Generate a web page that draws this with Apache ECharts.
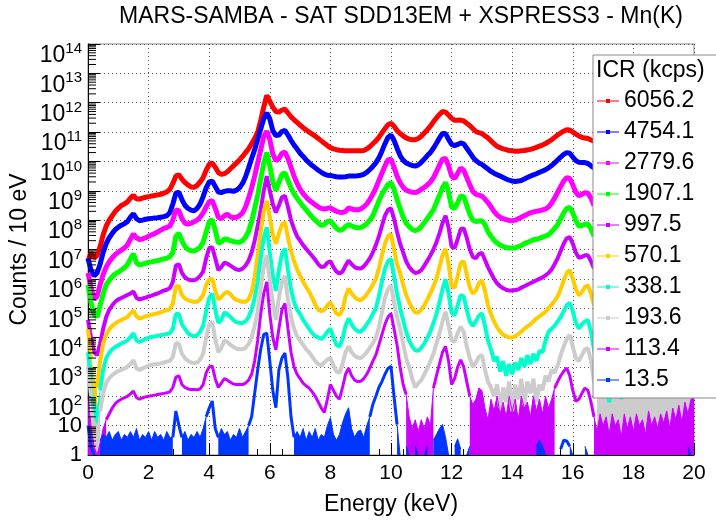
<!DOCTYPE html>
<html>
<head>
<meta charset="utf-8">
<title>MARS-SAMBA - Mn(K)</title>
<script src="https://cdn.jsdelivr.net/npm/echarts@6/dist/echarts.min.js"></script>
<style>
  html, body { margin: 0; padding: 0; background: #fff; }
  #main { width: 716px; height: 521px; }
</style>
</head>
<body>
<div id="main"></div>
<script>
// energy bins, 0.1 keV wide, 0 .. 20 keV
var energy = [];
for (var i = 0; i <= 200; i++) energy.push(i / 10);

// counts per bin, stored as log10(counts / 10 eV)
// 10 values per row = 1 keV ; null = empty bin
// the upper curves stop where the legend box hides them
var c6056 = [
  6.6, 6.9, 6.7, 6.8, 7.1, 7.5, 7.8, 8.0, 8.15, 8.3,
  8.4, 8.5, 8.55, 8.62, 8.75, 8.85, 8.72, 8.72, 8.75, 8.78,
  8.8, 8.82, 8.84, 8.86, 8.88, 8.92, 8.96, 9.05, 9.25, 9.5,
  9.55, 9.4, 9.28, 9.2, 9.13, 9.12, 9.18, 9.3, 9.45, 9.7,
  9.9, 9.95, 9.8, 9.62, 9.56, 9.58, 9.65, 9.75, 9.85, 9.95,
  10.05, 10.17, 10.3, 10.43, 10.6, 10.78, 11.0, 11.4, 11.85, 12.25,
  12.05, 11.85, 11.7, 11.68, 11.75, 11.78, 11.65, 11.52, 11.42, 11.33,
  11.24, 11.15, 11.07, 11.0, 10.93, 10.86, 10.78, 10.7, 10.62, 10.54,
  10.47, 10.43, 10.4, 10.38, 10.37, 10.36, 10.36, 10.36, 10.36, 10.36,
  10.36, 10.37, 10.42, 10.5, 10.6, 10.7, 10.82, 10.97, 11.12, 11.25,
  11.3, 11.2, 11.05, 10.95, 10.87, 10.8, 10.76, 10.74, 10.74, 10.78,
  10.86, 10.97, 11.08, 11.2, 11.35, 11.48, 11.6, 11.7, 11.68, 11.58,
  11.47, 11.4, 11.4, 11.41, 11.38, 11.3, 11.22, 11.12, 11.02, 10.98,
  10.95, 10.87, 10.8, 10.7, 10.6, 10.52, 10.47, 10.43, 10.4, 10.37,
  10.36, 10.35, 10.35, 10.36, 10.37, 10.39, 10.41, 10.44, 10.48, 10.52,
  10.56, 10.61, 10.67, 10.74, 10.82, 10.9, 10.97, 11.03, 11.08, 11.07,
  11.0, 10.93, 10.87, 10.82, 10.8, 10.78, 10.73, 10.69
];
var c4754 = [
  6.7, 6.3, 6.1, 6.2, 6.5, 6.9, 7.2, 7.4, 7.55, 7.68,
  7.76, 7.83, 7.88, 7.95, 8.1, 8.22, 8.05, 7.98, 8.0, 8.03,
  8.05, 8.06, 8.07, 8.08, 8.1, 8.12, 8.15, 8.25, 8.55, 8.92,
  8.95, 8.7, 8.5, 8.4, 8.34, 8.32, 8.4, 8.55, 8.8, 9.1,
  9.3, 9.33, 9.15, 8.96, 8.94, 8.98, 9.0, 9.0, 8.98, 9.02,
  9.1, 9.25, 9.48, 9.78, 10.1, 10.4, 10.75, 11.1, 11.45, 11.65,
  11.45, 11.05, 10.88, 10.9, 11.02, 11.06, 10.9, 10.72, 10.56, 10.42,
  10.28, 10.17, 10.05, 9.95, 9.86, 9.78, 9.7, 9.63, 9.57, 9.53,
  9.52, 9.5, 9.48, 9.47, 9.47, 9.48, 9.5, 9.5, 9.5, 9.51,
  9.53, 9.56, 9.63, 9.72, 9.83, 9.95, 10.12, 10.35, 10.6, 10.82,
  10.9, 10.72, 10.45, 10.2, 10.04, 9.95, 9.9, 9.86, 9.84, 9.88,
  9.97, 10.08, 10.2, 10.3, 10.45, 10.62, 10.8, 10.95, 10.95, 10.75,
  10.58, 10.54, 10.58, 10.63, 10.6, 10.45, 10.3, 10.15, 10.03, 9.95,
  9.9, 9.82, 9.74, 9.66, 9.6, 9.55, 9.5, 9.45, 9.4, 9.36,
  9.33, 9.32, 9.33, 9.35, 9.4, 9.45, 9.5, 9.54, 9.58, 9.63,
  9.67, 9.72, 9.78, 9.86, 9.95, 10.05, 10.15, 10.24, 10.3, 10.28,
  10.15, 10.03, 9.97, 9.96, 9.96, 9.93, 9.85, 9.78
];
var c2779 = [
  6.2, 5.7, 5.3, 5.4, 5.8, 6.15, 6.4, 6.58, 6.72, 6.83,
  6.91, 6.98, 7.05, 7.15, 7.35, 7.53, 7.4, 7.34, 7.36, 7.4,
  7.45, 7.5, 7.54, 7.6, 7.66, 7.72, 7.75, 7.8, 8.0, 8.35,
  8.32, 8.05, 7.9, 7.86, 7.9, 7.94, 8.0, 8.1, 8.25, 8.45,
  8.63, 8.66, 8.4, 8.1, 8.05, 8.15, 8.2, 8.12, 8.08, 8.1,
  8.15, 8.25, 8.45, 8.75, 9.1, 9.5, 9.95, 10.4, 10.85, 11.03,
  10.75, 10.25, 10.02, 10.1, 10.28, 10.32, 10.1, 9.8, 9.5, 9.25,
  9.05, 8.9, 8.78, 8.68, 8.6, 8.52, 8.45, 8.4, 8.38, 8.4,
  8.42, 8.35, 8.3, 8.27, 8.26, 8.3, 8.42, 8.38, 8.35, 8.35,
  8.38, 8.45, 8.55, 8.7, 8.88, 9.1, 9.35, 9.6, 9.85, 10.05,
  10.08, 9.8, 9.5, 9.28, 9.12, 9.02, 8.98, 8.95, 8.94, 8.98,
  9.05, 9.12, 9.2, 9.3, 9.45, 9.65, 9.88, 10.08, 10.1, 9.85,
  9.5, 9.42, 9.6, 9.78, 9.7, 9.45, 9.2, 8.98, 8.88, 8.85,
  8.82, 8.72, 8.6, 8.45, 8.3, 8.18, 8.1, 8.05, 8.02, 7.99,
  7.98, 8.0, 8.05, 8.1, 8.15, 8.2, 8.25, 8.28, 8.3, 8.32,
  8.35, 8.38, 8.45, 8.58, 8.75, 8.95, 9.15, 9.33, 9.45, 9.42,
  9.2, 8.95, 8.83, 8.88, 8.93, 8.92, 8.75, 8.5
];
var c1907 = [
  5.8, 5.2, 4.8, 4.7, 5.1, 5.5, 5.8, 5.95, 6.08, 6.17,
  6.23, 6.3, 6.38, 6.48, 6.68, 6.85, 6.55, 6.47, 6.5, 6.53,
  6.56, 6.58, 6.6, 6.62, 6.65, 6.68, 6.7, 6.75, 6.9, 7.45,
  7.55, 7.3, 7.1, 7.0, 6.96, 6.95, 7.0, 7.08, 7.25, 7.6,
  7.95, 8.02, 7.65, 7.22, 7.25, 7.36, 7.35, 7.3, 7.27, 7.25,
  7.25, 7.3, 7.42, 7.62, 7.95, 8.4, 8.85, 9.4, 9.95, 10.3,
  9.85, 9.3, 9.0, 9.3, 9.55, 9.62, 9.35, 9.1, 8.9, 8.75,
  8.6, 8.47, 8.35, 8.22, 8.1, 8.0, 7.9, 7.82, 7.85, 7.95,
  7.98, 7.85, 7.72, 7.65, 7.68, 7.78, 7.85, 7.8, 7.76, 7.74,
  7.75, 7.8, 7.88, 8.0, 8.15, 8.4, 8.65, 8.88, 9.05, 9.22,
  9.28, 9.05, 8.7, 8.4, 8.1, 7.9, 7.78, 7.68, 7.64, 7.68,
  7.78, 7.92, 8.05, 8.2, 8.35, 8.6, 8.85, 9.1, 9.28, 8.95,
  8.45, 8.4, 8.6, 8.82, 8.8, 8.5, 8.2, 8.0, 7.95, 7.97,
  7.98, 7.85, 7.6, 7.45, 7.32, 7.22, 7.15, 7.1, 7.07, 7.05,
  7.05, 7.06, 7.1, 7.13, 7.2, 7.24, 7.28, 7.33, 7.35, 7.38,
  7.42, 7.46, 7.5, 7.6, 7.72, 7.85, 8.05, 8.25, 8.4, 8.43,
  8.25, 7.98, 7.8, 7.82, 7.86, 7.87, 7.7, 7.45
];
var c997 = [
  4.6, 4.0, 3.5, 3.4, 3.8, 4.3, 4.7, 4.95, 5.1, 5.22,
  5.3, 5.35, 5.4, 5.45, 5.5, 5.57, 5.35, 5.3, 5.33, 5.36,
  5.4, 5.43, 5.47, 5.5, 5.55, 5.6, 5.63, 5.68, 5.9, 6.45,
  6.5, 6.2, 6.05, 5.98, 5.95, 5.95, 6.0, 6.1, 6.25, 6.7,
  7.05, 7.08, 6.7, 6.3, 6.4, 6.55, 6.52, 6.45, 6.38, 6.32,
  6.3, 6.35, 6.45, 6.62, 6.9, 7.3, 7.8, 8.35, 9.0, 9.5,
  9.0, 8.55, 8.26, 8.5, 8.78, 8.83, 8.45, 8.0, 7.7, 7.45,
  7.3, 7.15, 7.02, 6.9, 6.78, 6.65, 6.5, 6.4, 6.42, 6.55,
  6.6, 6.4, 6.25, 6.18, 6.25, 6.45, 6.62, 6.5, 6.4, 6.36,
  6.35, 6.42, 6.55, 6.7, 6.9, 7.15, 7.45, 7.8, 8.15, 8.35,
  8.4, 8.05, 7.6, 7.2, 6.9, 6.6, 6.4, 6.28, 6.2, 6.22,
  6.3, 6.45, 6.62, 6.8, 7.0, 7.25, 7.55, 7.9, 8.15, 7.75,
  7.1, 7.05, 7.35, 7.7, 7.72, 7.4, 7.0, 6.75, 6.7, 6.85,
  6.88, 6.65, 6.4, 6.2, 6.0, 5.85, 5.75, 5.68, 5.63, 5.6,
  5.6, 5.62, 5.64, 5.7, 5.75, 5.8, 5.85, 5.9, 5.95, 6.0,
  6.05, 6.12, 6.2, 6.32, 6.5, 6.7, 6.95, 7.2, 7.38, 7.42,
  7.2, 6.9, 6.72, 6.75, 6.8, 6.8, 6.6, 6.35
];
var c570 = [
  4.3, 3.3, 2.6, 2.3, 3.2, 3.8, 4.1, 4.28, 4.4, 4.48,
  4.55, 4.6, 4.65, 4.7, 4.82, 4.93, 4.72, 4.65, 4.68, 4.72,
  4.75, 4.78, 4.8, 4.83, 4.86, 4.9, 4.93, 4.97, 5.15, 5.75,
  5.75, 5.45, 5.33, 5.28, 5.24, 5.22, 5.22, 5.3, 5.45, 5.8,
  5.98, 6.0, 5.6, 5.3, 5.38, 5.5, 5.56, 5.48, 5.35, 5.28,
  5.25, 5.22, 5.22, 5.3, 5.55, 6.05, 6.8, 7.6, 8.3, 8.66,
  8.1, 7.5, 7.2, 7.55, 7.85, 7.93, 7.4, 6.95, 6.6, 6.32,
  6.1, 5.9, 5.72, 5.56, 5.35, 5.12, 4.95, 4.9, 4.95, 5.1,
  5.2, 5.0, 4.82, 4.77, 4.95, 5.4, 5.67, 5.5, 5.38, 5.3,
  5.27, 5.35, 5.48, 5.62, 5.8, 6.0, 6.35, 6.8, 7.2, 7.45,
  7.53, 7.0, 6.5, 6.2, 5.8, 5.45, 5.2, 5.0, 4.85, 4.85,
  4.95, 5.1, 5.3, 5.5, 5.75, 6.0, 6.4, 6.8, 7.02, 6.5,
  5.75, 5.7, 6.1, 6.55, 6.6, 6.15, 5.7, 5.5, 5.6, 5.85,
  5.95, 5.6, 5.1, 4.8, 4.55, 4.35, 4.2, 4.1, 4.05, 4.0,
  4.0, 4.05, 4.12, 4.2, 4.3, 4.38, 4.45, 4.55, 4.65, 4.72,
  4.8, 4.88, 5.0, 5.12, 5.25, 5.4, 5.65, 5.95, 6.2, 6.3,
  6.0, 5.65, 5.44, 5.55, 5.72, 5.78, 5.5, 5.1
];
var c338 = [
  3.5, 2.6, 1.8, 1.6, 2.2, 2.9, 3.3, 3.48, 3.6, 3.68,
  3.74, 3.8, 3.85, 3.9, 4.02, 4.15, 3.9, 3.85, 3.9, 3.95,
  4.0, 4.02, 4.04, 4.06, 4.08, 4.1, 4.12, 4.15, 4.3, 4.8,
  4.8, 4.45, 4.3, 4.15, 4.08, 4.04, 4.08, 4.2, 4.4, 4.9,
  5.35, 5.5, 4.95, 4.5, 4.6, 4.85, 4.8, 4.7, 4.6, 4.52,
  4.5, 4.5, 4.55, 4.7, 4.95, 5.35, 5.9, 6.7, 7.4, 7.76,
  6.9, 6.1, 5.6, 6.3, 6.85, 7.03, 6.3, 5.65, 5.2, 4.95,
  4.8, 4.6, 4.45, 4.3, 4.15, 4.05, 4.0, 3.95, 4.05, 4.2,
  4.3, 4.0, 3.75, 3.7, 3.95, 4.4, 4.65, 4.45, 4.3, 4.22,
  4.2, 4.3, 4.45, 4.6, 4.8, 5.0, 5.4, 5.9, 6.35, 6.6,
  6.68, 6.1, 5.5, 5.0, 4.6, 4.2, 3.9, 3.7, 3.57, 3.55,
  3.65, 3.8, 4.0, 4.2, 4.5, 4.8, 5.2, 5.65, 5.98, 5.5,
  4.85, 4.76, 5.1, 5.45, 5.4, 4.95, 4.55, 4.4, 4.55, 4.75,
  4.82, 4.4, 3.9, 3.6, 3.2, 3.35, 2.85, 3.2, 2.7, 3.1,
  2.75, 3.15, 2.9, 3.3, 3.0, 3.4, 3.1, 3.45, 3.2, 3.55,
  3.5, 3.9, 4.2, 4.3, 4.4, 4.55, 4.7, 4.9, 5.1, 5.18,
  4.9, 4.5, 4.31, 4.45, 4.55, 4.6, 4.2, 3.6, 3.0, 2.4,
  2.0, 2.6, 1.8, 2.5, 2.2, 2.7, 1.9, 2.4, 2.6, 2.1,
  2.5, 2.3, 2.7, 2.0, 2.6, 2.4, 2.8, 2.2, 2.5, 2.7,
  2.3, 2.6, 2.4, 2.8, 2.2, 2.5, 2.7, 2.4, 2.6, 2.5,
  2.6
];
var c193 = [
  3.0, 2.0, 1.2, 1.0, 1.5, 2.1, 2.45, 2.62, 2.72, 2.8,
  2.86, 2.9, 2.95, 3.0, 3.1, 3.23, 2.95, 2.9, 2.95, 3.0,
  3.05, 3.07, 3.09, 3.1, 3.12, 3.15, 3.18, 3.2, 3.35, 3.8,
  3.8, 3.45, 3.3, 3.2, 3.15, 3.13, 3.15, 3.25, 3.45, 4.0,
  4.45, 4.54, 3.95, 3.5, 3.65, 3.9, 3.85, 3.75, 3.68, 3.62,
  3.6, 3.6, 3.65, 3.78, 4.0, 4.4, 4.9, 5.7, 6.4, 6.8,
  5.95, 5.2, 4.6, 5.35, 5.9, 6.1, 5.3, 4.7, 4.3, 4.05,
  3.9, 3.75, 3.6, 3.5, 3.35, 3.2, 3.1, 3.05, 3.15, 3.25,
  3.3, 3.05, 2.85, 2.8, 3.1, 3.5, 3.7, 3.5, 3.38, 3.32,
  3.3, 3.38, 3.5, 3.65, 3.8, 4.0, 4.35, 4.85, 5.35, 5.65,
  5.78, 5.2, 4.7, 4.3, 3.8, 3.3, 3.0, 2.6, 2.3, 2.45,
  2.55, 2.75, 2.95, 3.2, 3.45, 3.8, 4.15, 4.55, 4.88, 4.4,
  3.9, 3.86, 4.15, 4.37, 4.2, 3.7, 3.3, 3.0, 3.15, 3.35,
  3.41, 2.9, 2.5, 2.3, 2.0, 2.4, 1.6, 2.3, 1.8, 2.5,
  1.5, 2.4, 1.9, 2.6, 1.7, 2.5, 2.1, 2.6, 1.8, 2.4,
  2.2, 2.7, 2.5, 2.9, 2.8, 3.05, 3.4, 3.7, 3.95, 4.09,
  3.7, 3.3, 3.2, 3.4, 3.6, 3.64, 3.2, 2.5, 2.2, 2.3,
  2.3, 2.0, 2.5, 2.1, 2.2, 1.9, 2.4, 2.2, 2.1, 2.3,
  2.4, 2.1, 2.2, 1.9, 2.5, 2.2, 2.3, 2.0, 2.4, 2.2,
  2.2, 2.0, 2.5, 2.2, 2.3, 2.0, 2.4, 2.1, 2.2, 2.3,
  2.0
];
var c113 = [
  2.0, 1.0, 0.3, 0.0, 0.4, 0.9, 1.2, 1.4, 1.6, 1.75,
  1.84, 1.9, 1.95, 2.0, 2.08, 2.18, 1.95, 1.9, 1.95, 1.98,
  2.0, 2.02, 2.04, 2.06, 2.08, 2.1, 2.12, 2.15, 2.3, 2.65,
  2.7, 2.4, 2.3, 2.25, 2.23, 2.23, 2.22, 2.25, 2.4, 2.8,
  3.0, 3.03, 2.6, 2.3, 2.45, 2.6, 2.55, 2.48, 2.42, 2.4,
  2.4, 2.4, 2.45, 2.55, 2.75, 3.2, 3.9, 4.8, 5.5, 5.9,
  4.8, 4.0, 3.58, 4.3, 4.95, 5.16, 4.3, 3.5, 3.0, 2.75,
  2.6, 2.45, 2.35, 2.28, 2.15, 2.0, 1.8, 1.6, 1.45, 1.9,
  2.4, 2.2, 2.0, 1.9, 2.3, 2.75, 2.96, 2.7, 2.55, 2.5,
  2.51, 2.6, 2.75, 2.95, 3.2, 3.41, 3.75, 4.1, 4.45, 4.7,
  4.82, 4.3, 3.75, 3.0, 2.4, 2.06, 1.3, 0.9, 1.2, 0.8,
  1.2, 0.9, 1.3, 1.0, 2.28, 2.7, 3.1, 3.5, 3.7, 3.2,
  2.4, 2.6, 3.0, 3.24, 3.0, 2.5, 2.0, 1.72, 1.9, 2.28,
  2.2, 1.6, 1.2, 1.9, 1.5, 2.0, 1.4, 1.8, 1.3, 2.0,
  1.5, 1.9, 1.2, 2.0, 1.6, 1.8, 1.3, 2.0, 1.5, 1.9,
  1.4, 2.0, 1.6, 1.9, 2.28, 2.5, 2.7, 2.85, 2.96, 2.7,
  2.2, 1.83, 1.9, 2.1, 2.28, 2.2, 1.8, 1.3, 0.8, 1.4,
  1.0, 1.3, 0.7, 1.4, 1.0, 1.2, 0.6, 1.4, 0.9, 1.3,
  0.8, 1.4, 1.0, 1.2, 0.7, 1.5, 1.0, 1.3, 0.9, 1.4,
  1.1, 1.5, 0.9, 1.6, 1.2, 1.7, 1.1, 1.8, 1.4, 1.9,
  2.0
];
var c13 = [
  1.0, 0.3, 0.0, null, 0.5, 0.7, 0.6, 0.8, 0.5, 0.7,
  0.8, 0.5, 0.7, 0.6, 0.8, 0.6, 0.9, 0.5, 0.7, 0.6,
  0.8, 0.5, 0.8, 0.6, 0.7, 0.5, 0.8, 0.6, 0.6, 1.5,
  1.0, 0.6, 0.8, 0.5, 0.7, 0.6, 0.8, 0.6, 0.9, 1.3,
  1.6, 1.84, 0.9, 0.6, 0.9, 0.7, 0.8, 0.5, 0.7, 0.6,
  0.9, 0.6, 0.8, 1.0, 1.3, 2.1, 2.9, 3.6, 4.1, 4.15,
  3.2, 2.2, 1.61, 2.9, 3.3, 3.47, 2.6, 1.3, 0.6, 0.8,
  0.6, 0.9, 0.5, 0.8, 0.6, 0.9, 0.5, 0.7, 0.6, 1.0,
  1.27, 0.7, 0.5, 0.7, 1.1, 1.4, 1.61, 0.9, 0.6, 0.8,
  0.85, 0.6, 1.0, 1.3, 1.72, 2.0, 2.3, 2.5, 2.75, 2.95,
  3.02, 2.0, 1.04, 0.0, null, 0.3, 0.0, null, 0.3, 0.0,
  null, 0.0, 0.3, null, 0.5, 0.7, 0.9, 1.04, 0.6, 0.0,
  null, 0.3, 0.55, 0.2, null, 0.0, 0.3, null, null, null,
  null, null, null, null, null, null, null, null, null, null,
  null, null, null, null, null, null, null, null, 0.3, 0.5,
  0.3, 0.0, null, null, null, null, 0.2, 0.5, 0.48, 0.3,
  0.0, null, null, null, 0.3, 0.0, null, null, null, null,
  null, null, null, null, null, null, null, null, null, null,
  null, null, null, null, null, null, null, null, null, null,
  null, null, null, null, null, null, null, null, 0.3, 0.0,
  null
];

var icrLabels = ['6056.2', '4754.1', '2779.6', '1907.1', '997.5', '570.1', '338.1', '193.6', '113.4', '13.5'];
var spectra = [c6056, c4754, c2779, c1907, c997, c570, c338, c193, c113, c13];
var colors = ['#ff0000', '#0000ff', '#ff00ff', '#00ff00', '#cc00ff', '#ffcc00', '#00ffcc', '#cccccc', '#cc00ff', '#0036ff'];
var widths = [5, 5, 5, 5, 4, 4, 4, 4, 3, 3];

// y tick labels: decades 10^0 .. 10^14
var decades = [0, 1, 2, 3, 4, 5, 6, 7, 8, 9, 10, 11, 12, 13, 14];

// energy ranges (keV) where a spectrum is pure counting noise that reaches down to 1 count
var noiseRanges = {
    '570.1': [[0.1, 0.3]],
    '338.1': [[0.1, 0.4]],
    '193.6': [[0.1, 0.4], [16.8, 20]],
    '113.4': [[0.0, 0.6], [10.5, 11.4], [12.6, 15.4], [16.7, 20]],
    '13.5': [[0.3, 2.8], [3.1, 3.9], [4.3, 5.3], [6.8, 9.3], [10.2, 12.7], [14.7, 15.5], [15.9, 16.6], [19.7, 20]]
};

// log axis minor ticks (2..9 x 10^n), in log10 units
var minorTicks = [];
for (var d = 0; d < 14; d++) {
    for (var k = 2; k <= 9; k++) minorTicks.push([0, d + Math.log10(k)]);
}

var font = 'Liberation Sans, Arial, sans-serif';

function inside(e, ranges, strict) {
    for (var r = 0; r < ranges.length; r++) {
        var a = ranges[r][0], b = ranges[r][1];
        if (strict ? (e > a + 1e-6 && e < b - 1e-6) : (e >= a - 1e-6 && e <= b + 1e-6)) return true;
    }
    return false;
}

var series = [];
spectra.forEach(function (vals, s) {
    var name = icrLabels[s];
    var ranges = noiseRanges[name] || [];
    series.push({
        name: name,
        type: 'line',
        showSymbol: false,
        symbol: 'none',
        animation: false,
        color: colors[s],
        lineStyle: { color: colors[s], width: widths[s] },
        data: energy.map(function (e, i) {
            var v = vals[i];
            if (v == null || inside(e, ranges, true)) return [e, '-'];
            return [e, v];
        })
    });
    if (ranges.length) {
        series.push({
            name: name,
            type: 'line',
            showSymbol: false,
            symbol: 'none',
            animation: false,
            color: colors[s],
            lineStyle: { color: colors[s], width: 1 },
            areaStyle: { color: colors[s], opacity: 1, origin: 'start' },
            data: energy.map(function (e, i) {
                var v = vals[i];
                if (v == null || !inside(e, ranges, false)) return [e, '-'];
                return [e, v];
            })
        });
    }
});

// minor ticks of the log scale
series.push({
    type: 'custom',
    silent: true,
    animation: false,
    z: 5,
    data: minorTicks,
    renderItem: function (params, api) {
        var p = api.coord([0, api.value(1)]);
        return {
            type: 'line',
            shape: { x1: p[0], y1: p[1], x2: p[0] + 8, y2: p[1] },
            style: { stroke: '#000', lineWidth: 1 }
        };
    }
});

// decade labels 1, 10, 10^2 ... placed on the y axis ticks
series.push({
    type: 'custom',
    silent: true,
    animation: false,
    clip: false,
    z: 5,
    data: decades.map(function (n) { return [0, n]; }),
    renderItem: function (params, api) {
        var n = api.value(1);
        var p = api.coord([0, n]);
        var txt = n === 0 ? '{p|1}' : n === 1 ? '{p|10}' : '{b|10}{s|' + n + '}';
        return {
            type: 'text',
            x: p[0] - 6,
            y: p[1],
            style: {
                text: txt,
                align: 'right',
                verticalAlign: 'middle',
                fill: '#000',
                rich: {
                    p: { fontSize: 22, fontFamily: font, fill: '#000' },
                    b: { fontSize: 23, fontFamily: font, fill: '#000', lineHeight: 23, padding: [12, 0, 0, 0], verticalAlign: 'top' },
                    s: { fontSize: 15, fontFamily: font, fill: '#000', lineHeight: 15, padding: [9, 0, 0, 0], verticalAlign: 'top' }
                }
            }
        };
    }
});

var option = {
    backgroundColor: '#fff',
    animation: false,
    textStyle: { fontFamily: font },
    grid: { left: 87, right: 22, top: 44, bottom: 63, show: true, borderColor: '#888', borderWidth: 1 },
    xAxis: {
        type: 'value',
        min: 0,
        max: 20,
        interval: 2,
        name: 'Energy (keV)',
        nameLocation: 'middle',
        nameGap: 38,
        nameTextStyle: { fontSize: 23, color: '#000', fontFamily: font },
        axisLine: { lineStyle: { color: '#000', width: 1 } },
        axisTick: { inside: true, length: 12, lineStyle: { color: '#000' } },
        minorTick: { show: true, splitNumber: 5, length: 6, lineStyle: { color: '#000' } },
        axisLabel: { fontSize: 21, color: '#000', margin: 8, fontFamily: font, showMinLabel: true, showMaxLabel: true },
        splitLine: { show: true, lineStyle: { color: '#555', type: [1, 3], width: 1 } }
    },
    yAxis: {
        type: 'value',
        min: 0,
        max: 14,
        interval: 1,
        name: 'Counts / 10 eV',
        nameLocation: 'middle',
        nameGap: 57,
        nameTextStyle: { fontSize: 23, color: '#000', fontFamily: font },
        axisLine: { lineStyle: { color: '#000', width: 1 } },
        axisTick: { inside: true, length: 12, lineStyle: { color: '#000' } },
        axisLabel: { show: false },
        splitLine: { show: true, lineStyle: { color: '#555', type: [1, 3], width: 1 } }
    },
    legend: {
        orient: 'vertical',
        left: 593,
        top: 55,
        padding: [34, 40, 6, 4],
        itemGap: 7,
        itemWidth: 22,
        itemHeight: 8,
        icon: 'path://M0,3.5L22,3.5L22,4.5L0,4.5ZM9,2L13,2L13,6L9,6Z',
        backgroundColor: '#fff',
        borderColor: '#888',
        borderWidth: 1,
        borderRadius: 0,
        textStyle: { fontSize: 23, color: '#000', fontFamily: font, lineHeight: 24 },
        data: icrLabels
    },
    graphic: [
        {
            type: 'text', x: 401, y: 17, z: 100,
            style: { text: 'MARS-SAMBA - SAT SDD13EM + XSPRESS3 - Mn(K)', fontSize: 23, fontFamily: font, fill: '#000',
                     textAlign: 'center', textVerticalAlign: 'middle', align: 'center', verticalAlign: 'middle' }
        },
        {
            type: 'text', x: 596, y: 71, z: 100,
            style: { text: 'ICR (kcps)', fontSize: 23, fontFamily: font, fill: '#000',
                     textAlign: 'left', textVerticalAlign: 'middle', align: 'left', verticalAlign: 'middle' }
        }
    ],
    series: series
};

var chart = echarts.init(document.getElementById('main'), null, { renderer: 'canvas' });
chart.setOption(option);
</script>
</body>
</html>
